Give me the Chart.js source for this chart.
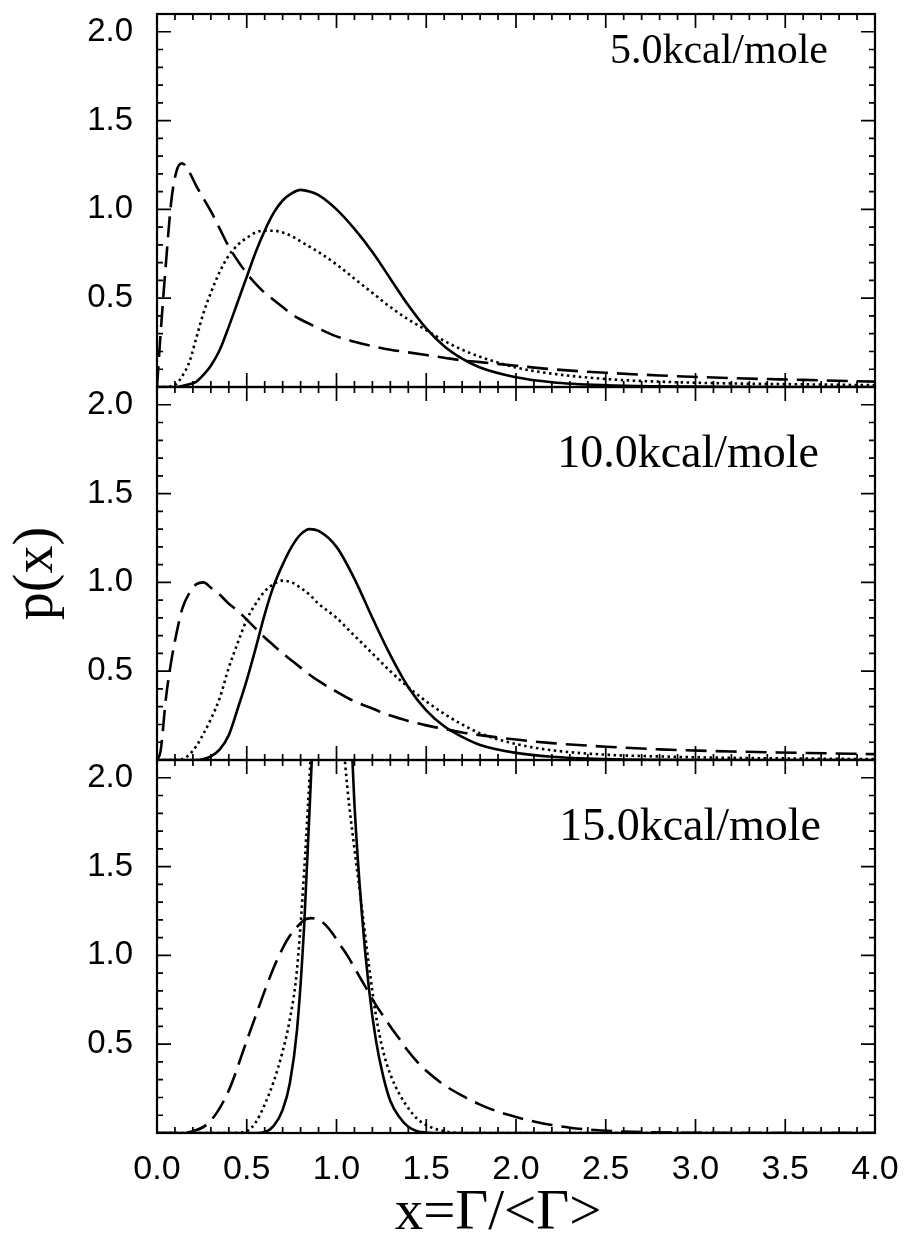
<!DOCTYPE html>
<html>
<head>
<meta charset="utf-8">
<script src="https://cdn.jsdelivr.net/npm/chart.js@4"></script>
<style>
html, body { margin: 0; padding: 0; background: #fff; }
#wrap { position: relative; width: 904px; height: 1233px; }
#wrap canvas { position: absolute; left: 0; top: 0; }
</style>
</head>
<body>
<div id="wrap">
  <canvas id="c1" width="904" height="1233"></canvas>
  <canvas id="c2" width="904" height="1233"></canvas>
  <canvas id="c3" width="904" height="1233"></canvas>
</div>
<script>
// x sample points
const xGrid = [0, 0.02, 0.05, 0.08, 0.11, 0.14, 0.18, 0.22, 0.26, 0.3, 0.35, 0.4, 0.45, 0.5, 0.55, 0.6, 0.65, 0.7, 0.75, 0.8, 0.85, 0.9, 1.0, 1.1, 1.2, 1.3, 1.4, 1.5, 1.6, 1.7, 1.8, 2.0, 2.2, 2.5, 2.8, 3.2, 3.6, 4.0];
const xGrid15 = [0, 0.1, 0.2, 0.3, 0.4, 0.5, 0.55, 0.6, 0.65, 0.7, 0.74, 0.78, 0.82, 0.86, 0.9, 0.94, 0.98, 1.02, 1.06, 1.1, 1.14, 1.18, 1.22, 1.26, 1.3, 1.35, 1.4, 1.45, 1.5, 1.6, 1.7, 1.8, 1.9, 2.0, 2.1, 2.2, 2.3, 2.4, 2.6, 3.0, 3.5, 4.0];

// 5.0 kcal/mole
const solid5 = [0, 0, 0, 0, 0, 0.005, 0.015, 0.03, 0.07, 0.12, 0.21, 0.34, 0.48, 0.62, 0.76, 0.88, 0.98, 1.05, 1.09, 1.11, 1.1, 1.08, 1.0, 0.89, 0.76, 0.61, 0.46, 0.33, 0.23, 0.16, 0.11, 0.055, 0.027, 0.01, 0.004, 0.001, 0, 0];
const dotted5 = [0, 0, 0, 0.005, 0.02, 0.06, 0.14, 0.28, 0.42, 0.53, 0.65, 0.74, 0.8, 0.84, 0.87, 0.88, 0.88, 0.87, 0.85, 0.82, 0.79, 0.76, 0.69, 0.61, 0.53, 0.45, 0.38, 0.32, 0.26, 0.21, 0.17, 0.11, 0.075, 0.045, 0.03, 0.02, 0.015, 0.01];
const dashed5 = [0, 0.3, 0.7, 1.05, 1.22, 1.26, 1.21, 1.13, 1.06, 0.99, 0.89, 0.79, 0.71, 0.64, 0.58, 0.53, 0.49, 0.45, 0.41, 0.38, 0.355, 0.33, 0.285, 0.255, 0.23, 0.21, 0.195, 0.18, 0.165, 0.15, 0.14, 0.12, 0.1, 0.08, 0.065, 0.05, 0.04, 0.03];

// 10.0 kcal/mole
const solid10 = [0, 0, 0, 0, 0, 0, 0, 0, 0.005, 0.02, 0.06, 0.14, 0.29, 0.45, 0.63, 0.82, 0.98, 1.1, 1.2, 1.27, 1.3, 1.29, 1.2, 1.02, 0.8, 0.59, 0.41, 0.28, 0.19, 0.13, 0.085, 0.04, 0.018, 0.005, 0.001, 0, 0, 0];
const dotted10 = [0, 0, 0, 0, 0, 0.005, 0.03, 0.08, 0.15, 0.23, 0.35, 0.52, 0.66, 0.79, 0.88, 0.95, 0.99, 1.01, 1.0, 0.97, 0.93, 0.88, 0.8, 0.7, 0.6, 0.5, 0.41, 0.33, 0.26, 0.2, 0.15, 0.09, 0.055, 0.03, 0.02, 0.012, 0.008, 0.005];
const dashed10 = [0, 0.05, 0.35, 0.56, 0.72, 0.85, 0.94, 0.99, 1.0, 0.97, 0.93, 0.88, 0.84, 0.79, 0.74, 0.69, 0.645, 0.6, 0.56, 0.52, 0.48, 0.445, 0.385, 0.33, 0.29, 0.25, 0.22, 0.195, 0.175, 0.155, 0.14, 0.115, 0.095, 0.075, 0.06, 0.048, 0.04, 0.033];

// 15.0 kcal/mole (narrow peaks run off the top of the panel)
const solid15 = [0, 0, 0, 0, 0, 0, 0, 0.005, 0.04, 0.13, 0.28, 0.58, 1.17, 2.05, 2.95, 3.6, 3.9, 3.55, 2.75, 1.85, 1.25, 0.82, 0.52, 0.32, 0.18, 0.09, 0.035, 0.01, 0.003, 0, 0, 0, 0, 0, 0, 0, 0, 0, 0, 0, 0, 0];
const dotted15 = [0, 0, 0, 0, 0, 0.01, 0.06, 0.16, 0.29, 0.46, 0.64, 0.92, 1.48, 2.2, 3.1, 3.6, 3.2, 2.45, 1.95, 1.6, 1.28, 0.95, 0.66, 0.46, 0.33, 0.22, 0.14, 0.08, 0.045, 0.01, 0, 0, 0, 0, 0, 0, 0, 0, 0, 0, 0, 0];
const dashed15 = [0, 0, 0.01, 0.07, 0.24, 0.52, 0.66, 0.8, 0.93, 1.04, 1.11, 1.16, 1.2, 1.21, 1.2, 1.17, 1.12, 1.06, 1.0, 0.93, 0.86, 0.79, 0.72, 0.66, 0.6, 0.53, 0.46, 0.4, 0.35, 0.27, 0.21, 0.16, 0.12, 0.09, 0.065, 0.045, 0.03, 0.02, 0.008, 0.001, 0, 0];

const panelNames = ['5.0kcal/mole', '10.0kcal/mole', '15.0kcal/mole'];
const xTickValues = [0, 0.5, 1, 1.5, 2, 2.5, 3, 3.5, 4];
const yTickValues = [0.5, 1, 1.5, 2];
const xTitle = 'x=\u0393/<\u0393>';
const yTitle = 'p(x)';

// page layout
const W = 904, H = 1233;
const LEFT = 157, RIGHT = 875;
const tops = [14, 387, 760];
const PANEL_H = 373;

const sans = '"Liberation Sans", Arial, Helvetica, sans-serif';
const serif = '"Liberation Serif", "Times New Roman", Times, serif';

// frame with inward ticks on all four sides, panel label, bottom x title
const frameTicks = {
  id: 'frameTicks',
  afterDatasetsDraw(chart, args, opts) {
    const {ctx, chartArea: a, scales: {x, y}} = chart;
    ctx.save();
    ctx.strokeStyle = '#000';
    ctx.lineWidth = 2.2;
    ctx.strokeRect(a.left, a.top, a.right - a.left, a.bottom - a.top);
    ctx.lineWidth = 1.7;
    ctx.beginPath();
    for (let i = 1; i < 40; i++) {
      const px = x.getPixelForValue(i / 10);
      const len = i % 5 === 0 ? 14 : 6;
      ctx.moveTo(px, a.bottom); ctx.lineTo(px, a.bottom - len);
      ctx.moveTo(px, a.top); ctx.lineTo(px, a.top + len);
    }
    for (let i = 1; i <= 20; i++) {
      const py = y.getPixelForValue(i / 10);
      const len = i % 5 === 0 ? 14 : 6;
      ctx.moveTo(a.left, py); ctx.lineTo(a.left + len, py);
      ctx.moveTo(a.right, py); ctx.lineTo(a.right - len, py);
    }
    ctx.stroke();

    ctx.fillStyle = '#000';
    ctx.textBaseline = 'alphabetic';
    ctx.textAlign = 'right';
    ctx.font = opts.labelSize + 'px ' + serif;
    ctx.fillText(opts.label, opts.labelRight, a.top + opts.labelDrop);

    if (opts.xTitle) {
      ctx.textAlign = 'center';
      ctx.font = '57px ' + serif;
      ctx.fillText(opts.xTitle, 498, 1229);
    }
    ctx.restore();
  }
};

function line(xs, ys, dash) {
  return {
    data: xs.map((v, i) => ({x: v, y: ys[i]})),
    borderColor: '#000',
    borderWidth: 2.6,
    borderDash: dash,
    pointRadius: 0,
    cubicInterpolationMode: 'monotone',
    fill: false
  };
}

const panels = [
  {id: 'c1', xs: xGrid, solid: solid5, dotted: dotted5, dashed: dashed5, labelRight: 828, labelDrop: 49, labelSize: 42},
  {id: 'c2', xs: xGrid, solid: solid10, dotted: dotted10, dashed: dashed10, labelRight: 819, labelDrop: 80, labelSize: 46},
  {id: 'c3', xs: xGrid15, solid: solid15, dotted: dotted15, dashed: dashed15, labelRight: 821, labelDrop: 80, labelSize: 46}
];

panels.forEach((p, i) => {
  const last = i === panels.length - 1;
  const top = tops[i];
  const bottom = top + PANEL_H;
  new Chart(document.getElementById(p.id), {
    type: 'line',
    data: {
      datasets: [
        line(p.xs, p.solid, []),
        line(p.xs, p.dotted, [2.5, 3.5]),
        line(p.xs, p.dashed, [21, 9])
      ]
    },
    options: {
      responsive: false,
      animation: false,
      devicePixelRatio: 1,
      layout: {padding: {left: 0, right: W - RIGHT, top: top, bottom: last ? 0 : H - bottom}},
      plugins: {
        legend: {display: false},
        tooltip: {enabled: false},
        frameTicks: {
          label: panelNames[i],
          labelRight: p.labelRight,
          labelDrop: p.labelDrop,
          labelSize: p.labelSize,
          xTitle: last ? xTitle : null
        }
      },
      scales: {
        x: {
          type: 'linear',
          min: 0,
          max: 4,
          display: last,
          afterBuildTicks: s => { s.ticks = xTickValues.map(v => ({value: v})); },
          afterFit: s => { s.height = last ? H - bottom : 0; s.paddingLeft = 0; s.paddingRight = 0; },
          grid: {display: false, drawTicks: false},
          border: {display: false},
          ticks: {
            color: '#000',
            padding: 16,
            autoSkip: false,
            maxRotation: 0,
            font: {family: sans, size: 34},
            callback: v => v.toFixed(1)
          }
        },
        y: {
          type: 'linear',
          min: 0,
          max: 2.1,
          afterBuildTicks: s => { s.ticks = yTickValues.map(v => ({value: v})); },
          afterFit: s => { s.width = LEFT; s.paddingTop = 0; s.paddingBottom = 0; },
          grid: {display: false, drawTicks: false},
          border: {display: false},
          ticks: {
            color: '#000',
            padding: 24,
            font: {family: sans, size: 33},
            callback: v => v.toFixed(1)
          },
          title: {
            display: i === 1,
            text: yTitle,
            color: '#000',
            font: {family: serif, size: 56, lineHeight: 1},
            padding: {top: 9, bottom: 0}
          }
        }
      }
    },
    plugins: [frameTicks]
  });
});
</script>
</body>
</html>
